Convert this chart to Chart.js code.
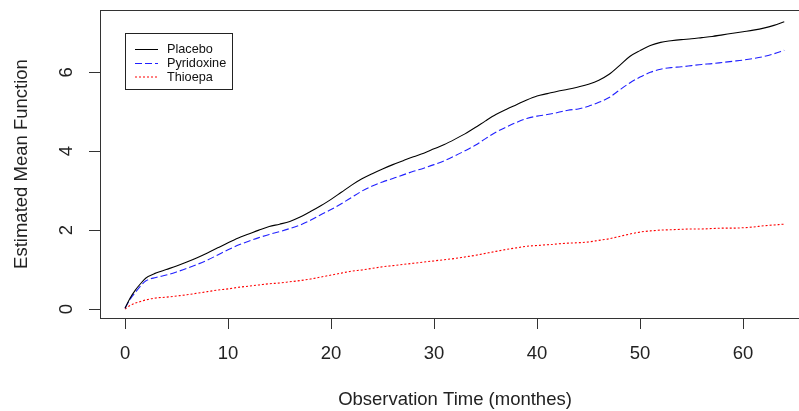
<!DOCTYPE html>
<html>
<head>
<meta charset="utf-8">
<script src="https://cdn.jsdelivr.net/npm/chart.js@4/dist/chart.umd.min.js"></script>
<style>
html,body{margin:0;padding:0;background:#fff;overflow:hidden;}
#wrap{width:830px;height:411px;position:relative;}
</style>
</head>
<body>
<div id="wrap"><canvas id="c" width="830" height="411"></canvas></div>
<script>
const months = [0,0.5,1,1.5,2,3,4,5,6,7,8,9,10,11,12,13,14,15,16,17,18,19,20,21,22,23,24,25,26,27,28,29,30,31,32,33,34,35,36,37,38,39,40,41,42,43,44,45,46,47,48,49,50,51,52,53,54,55,56,57,58,59,60,61,62,63,64];
const placebo = [0.02,0.28,0.48,0.64,0.78,0.91,1.00,1.09,1.19,1.30,1.42,1.55,1.68,1.80,1.90,2.00,2.09,2.15,2.22,2.33,2.47,2.62,2.78,2.96,3.14,3.30,3.43,3.55,3.66,3.76,3.86,3.95,4.06,4.17,4.30,4.44,4.60,4.77,4.93,5.06,5.18,5.30,5.40,5.46,5.52,5.57,5.63,5.70,5.80,5.95,6.17,6.40,6.55,6.68,6.76,6.80,6.83,6.85,6.88,6.91,6.95,6.99,7.03,7.07,7.12,7.19,7.28];
const pyridoxine = [0.02,0.25,0.42,0.58,0.71,0.80,0.86,0.94,1.03,1.13,1.24,1.37,1.50,1.62,1.72,1.81,1.89,1.96,2.04,2.13,2.25,2.39,2.52,2.67,2.83,2.99,3.12,3.22,3.31,3.40,3.49,3.57,3.66,3.76,3.88,4.01,4.15,4.32,4.48,4.61,4.73,4.83,4.89,4.93,4.98,5.04,5.07,5.14,5.24,5.36,5.55,5.73,5.88,6.00,6.08,6.12,6.14,6.17,6.20,6.22,6.25,6.28,6.31,6.35,6.40,6.47,6.56];
const thioepa = [0.00,0.09,0.15,0.19,0.23,0.28,0.30,0.33,0.36,0.40,0.44,0.48,0.51,0.55,0.58,0.61,0.64,0.66,0.69,0.72,0.76,0.81,0.86,0.91,0.96,0.99,1.03,1.07,1.10,1.13,1.16,1.19,1.22,1.25,1.28,1.32,1.36,1.41,1.46,1.51,1.55,1.59,1.61,1.63,1.65,1.67,1.68,1.70,1.74,1.78,1.84,1.90,1.95,1.98,2.00,2.01,2.02,2.03,2.03,2.04,2.05,2.05,2.06,2.08,2.11,2.13,2.15];
const seriesNames = ["Placebo","Pyridoxine","Thioepa"];
const xTicks = [0,10,20,30,40,50,60];
const yTicks = [0,2,4,6];

const FONT = "'Liberation Sans', Arial, sans-serif";
const AX = '#333';

function pts(arr){ return months.map((m,i)=>({x:m,y:arr[i]})); }

const boxAndLabels = {
  id:'boxAndLabels',
  afterDraw(chart){
    const ctx = chart.ctx, a = chart.chartArea;
    ctx.save();
    ctx.strokeStyle = AX; ctx.lineWidth = 1;
    ctx.strokeRect(Math.round(a.left)+0.5, Math.round(a.top)+0.5, Math.round(a.right-a.left), Math.round(a.bottom-a.top));
    // rotated y tick labels
    const ys = chart.scales.y;
    ctx.fillStyle = '#222';
    ctx.font = '18.5px ' + FONT;
    ctx.textAlign = 'center'; ctx.textBaseline = 'middle';
    yTicks.forEach(v=>{
      const py = ys.getPixelForValue(v);
      ctx.save(); ctx.translate(66, py); ctx.rotate(-Math.PI/2);
      ctx.fillText(String(v), 0, 1); ctx.restore();
    });
    // legend
    const lx = 125.5, ly = 33.5, lw = 107, lh = 56;
    ctx.fillStyle = '#fff';
    ctx.fillRect(lx, ly, lw, lh);
    ctx.strokeStyle = '#222'; ctx.lineWidth = 1;
    ctx.strokeRect(lx, ly, lw, lh);
    ctx.font = '12.7px ' + FONT; ctx.textAlign = 'left'; ctx.textBaseline = 'middle';
    const rows = [49, 63, 76.5];
    chart.data.datasets.forEach((ds,i)=>{
      ctx.strokeStyle = ds.borderColor; ctx.lineWidth = 1;
      ctx.setLineDash(ds.borderDash || []);
      ctx.beginPath(); ctx.moveTo(135, rows[i]+0.5); ctx.lineTo(158, rows[i]+0.5); ctx.stroke();
      ctx.setLineDash([]);
      ctx.fillStyle = '#111';
      ctx.fillText(ds.label, 167, rows[i]+0.5);
    });
    ctx.restore();
  }
};

new Chart(document.getElementById('c'), {
  type:'line',
  data:{
    datasets:[
      {label:seriesNames[0], data:pts(placebo), borderColor:'#000000', borderWidth:1.1, pointRadius:0, fill:false, cubicInterpolationMode:'monotone'},
      {label:seriesNames[1], data:pts(pyridoxine), borderColor:'#2020ff', borderWidth:1.1, borderDash:[7,3], pointRadius:0, fill:false, cubicInterpolationMode:'monotone'},
      {label:seriesNames[2], data:pts(thioepa), borderColor:'#ff0000', borderWidth:1.1, borderDash:[2,2], pointRadius:0, fill:false, cubicInterpolationMode:'monotone'}
    ]
  },
  options:{
    responsive:false, animation:false, devicePixelRatio:1,
    layout:{padding:{top:10,right:20,left:0,bottom:0}},
    plugins:{legend:{display:false}, tooltip:{enabled:false}},
    scales:{
      x:{
        type:'linear', min:-2.43, max:66.5,
        afterBuildTicks(s){ s.ticks = xTicks.map(v=>({value:v})); },
        afterFit(s){ s.height = 93; },
        border:{display:false},
        grid:{display:true, drawOnChartArea:false, drawTicks:true, tickLength:11, color:AX, lineWidth:1},
        ticks:{color:'#222', font:{family:FONT, size:18.5}, padding:14, maxRotation:0, autoSkip:false},
        title:{display:true, text:'Observation Time (monthes)', color:'#222', font:{family:FONT, size:18.5}, padding:{top:0,bottom:0}}
      },
      y:{
        type:'linear', min:-0.228, max:7.58,
        afterBuildTicks(s){ s.ticks = yTicks.map(v=>({value:v})); },
        afterFit(s){ s.width = 100; },
        border:{display:false},
        grid:{display:true, drawOnChartArea:false, drawTicks:true, tickLength:11, color:AX, lineWidth:1},
        ticks:{display:false},
        title:{display:true, text:'Estimated Mean Function', color:'#222', font:{family:FONT, size:18.5}, padding:{top:11,bottom:0}}
      }
    }
  },
  plugins:[boxAndLabels]
});
</script>
</body>
</html>
